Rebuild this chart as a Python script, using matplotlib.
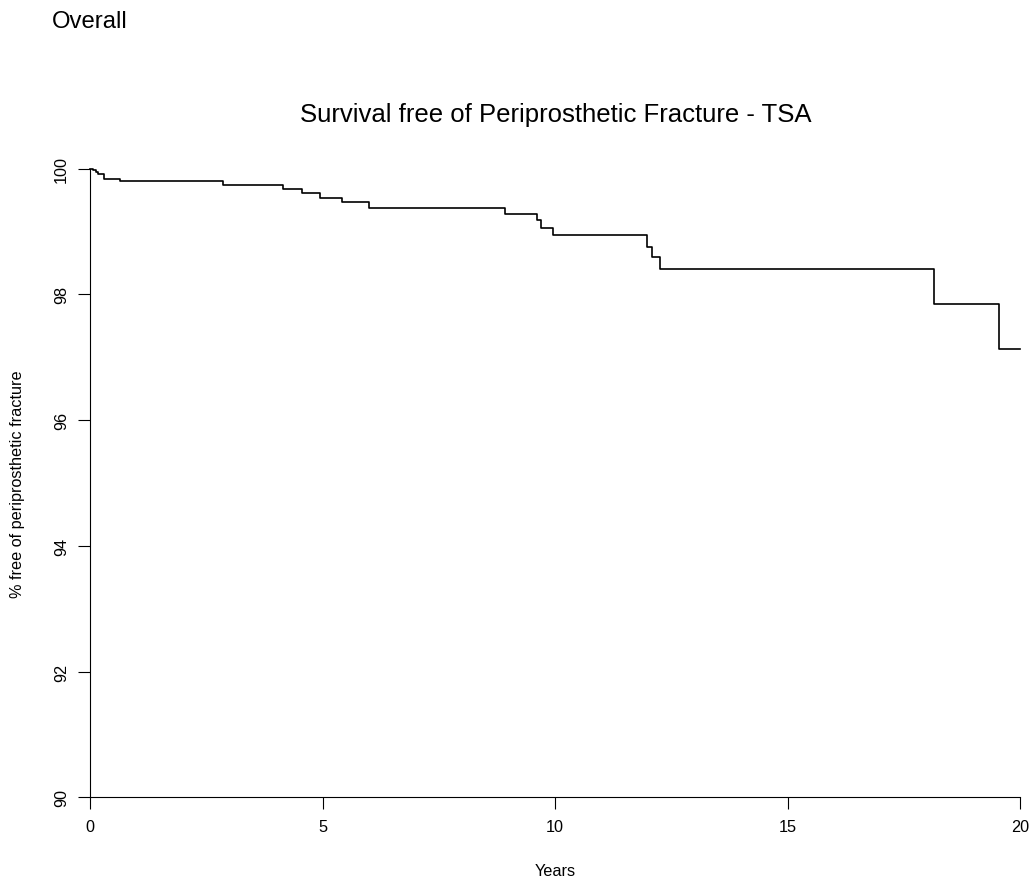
import matplotlib
matplotlib.use('Agg')
import matplotlib.pyplot as plt

plt.rcParams['font.family'] = ['Liberation Sans', 'DejaVu Sans']

# Kaplan-Meier steps (years, % free of fracture)
years = [0, 0.06, 0.13, 0.18, 0.30, 0.645, 2.87, 4.16, 4.55, 4.95, 5.43, 6.01,
         8.92, 9.61, 9.69, 9.95, 11.97, 12.09, 12.26, 18.14, 19.55, 20.0]
pct_free = [100, 99.984, 99.947, 99.916, 99.84, 99.80, 99.745, 99.67, 99.62, 99.54, 99.47, 99.38,
            99.28, 99.18, 99.055, 98.94, 98.76, 98.59, 98.41, 97.855, 97.13, 97.13]

x_ticks = [0, 5, 10, 15, 20]
y_ticks = [90, 92, 94, 96, 98, 100]

W, H = 1031, 878
fig = plt.figure(figsize=(W / 100, H / 100), dpi=100)

# plot region in pixels: x 90..1020, y 169.7..798.3
ax = fig.add_axes([90 / W, 1 - 798.3 / H, 930 / W, 628.6 / H])
ax.step(years, pct_free, where='post', color='black', lw=1.2, clip_on=False)

ax.set_xlim(0, 20)
ax.set_ylim(90, 100)
ax.set_xticks(x_ticks)
ax.set_yticks(y_ticks)
ax.set_yticklabels([str(v) for v in y_ticks], rotation=90, va='center')

for s in ['top', 'right']:
    ax.spines[s].set_visible(False)
for s in ['left', 'bottom']:
    ax.spines[s].set_linewidth(0.8)
ax.tick_params(direction='out', length=8.6, width=0.8, labelsize=11.7, colors='black')
ax.tick_params(axis='x', pad=7)
ax.tick_params(axis='y', pad=6.5)

# texts
fig.text(51.7 / W, 1 - 28 / H, 'Overall', fontsize=17.2, ha='left', va='baseline')
fig.text(556 / W, 1 - 121.7 / H, 'Survival free of Periprosthetic Fracture - TSA',
         fontsize=18.5, ha='center', va='baseline')
fig.text(555 / W, 1 - 876 / H, 'Years', fontsize=11.7, ha='center', va='baseline')
fig.text(17.5 / W, 1 - 484 / H, '% free of periprosthetic fracture', fontsize=11.7,
         rotation=90, ha='center', va='center')

fig.savefig('out.png', dpi=100)
